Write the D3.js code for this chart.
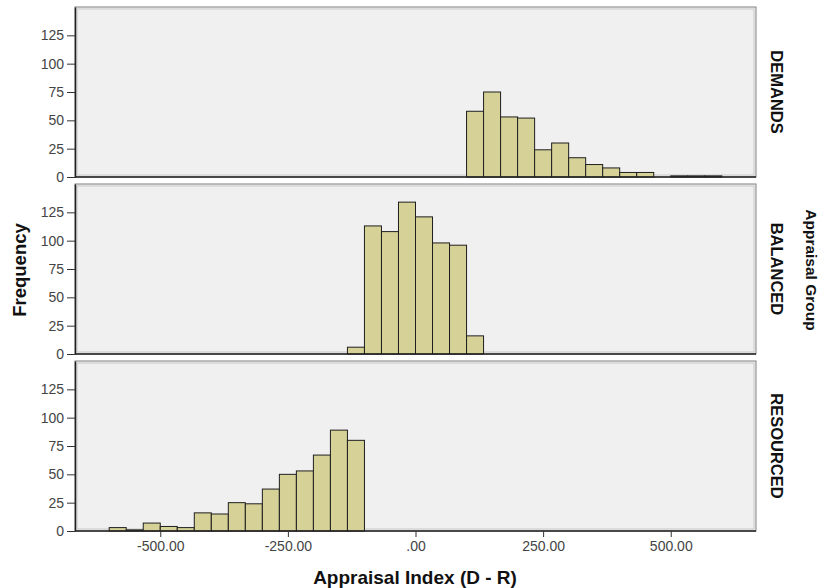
<!DOCTYPE html>
<html>
<head>
<meta charset="utf-8">
<script src="https://cdn.jsdelivr.net/npm/d3@7"></script>
<style>
  body { margin: 0; background: #fff; }
  text { font-family: "Liberation Sans", Arial, sans-serif; }
</style>
</head>
<body>
<div id="chart"></div>
<script>
// histogram bins: 36 bins of width 100/3 starting at -600
const binStart = -600;
const binWidth = 100 / 3;

const groups = ["DEMANDS", "BALANCED", "RESOURCED"];

const demandsCounts = [
  0, 0, 0, 0, 0, 0, 0, 0, 0, 0, 0, 0, 0, 0, 0, 0, 0, 0,
  0, 0, 0, 58, 75, 53, 52, 24, 30, 17, 11, 8, 4, 4, 0, 1, 1, 1
];
const balancedCounts = [
  0, 0, 0, 0, 0, 0, 0, 0, 0, 0, 0, 0, 0, 0, 6, 113, 108, 134,
  121, 98, 96, 16, 0, 0, 0, 0, 0, 0, 0, 0, 0, 0, 0, 0, 0, 0
];
const resourcedCounts = [
  3, 1, 7, 4, 3, 16, 15, 25, 24, 37, 50, 53, 67, 89, 80, 0, 0, 0,
  0, 0, 0, 0, 0, 0, 0, 0, 0, 0, 0, 0, 0, 0, 0, 0, 0, 0
];
const counts = [demandsCounts, balancedCounts, resourcedCounts];

const xTicks = [-500, -250, 0, 250, 500];
const xTickLabels = ["-500.00", "-250.00", ".00", "250.00", "500.00"];
const yTicks = [0, 25, 50, 75, 100, 125];

const width = 822, height = 588;
const left = 75, right = 756;
const panelH = 170;
const panelTops = [7, 184, 361];

const svg = d3.select("#chart").append("svg")
  .attr("width", width)
  .attr("height", height);

const x = d3.scaleLinear().domain([-667, 667]).range([left, right]);

groups.forEach((g, gi) => {
  const top = panelTops[gi];
  const y = d3.scaleLinear().domain([0, 150]).range([top + panelH, top]);
  const panel = svg.append("g");

  // background + double frame
  panel.append("rect")
    .attr("x", left).attr("y", top)
    .attr("width", right - left).attr("height", panelH)
    .attr("fill", "#f0f0f0")
    .attr("stroke", "#808080").attr("stroke-width", 1);
  panel.append("rect")
    .attr("x", left + 2).attr("y", top + 2)
    .attr("width", right - left - 4).attr("height", panelH - 4)
    .attr("fill", "none")
    .attr("stroke", "#c8c8c8").attr("stroke-width", 1);

  const bins = counts[gi]
    .map((c, i) => ({ x0: binStart + i * binWidth, x1: binStart + (i + 1) * binWidth, c }))
    .filter(d => d.c > 0);

  panel.append("g")
    .selectAll("rect")
    .data(bins)
    .join("rect")
    .attr("x", d => x(d.x0))
    .attr("y", d => y(d.c))
    .attr("width", d => x(d.x1) - x(d.x0))
    .attr("height", d => y(0) - y(d.c))
    .attr("fill", "#d6d297")
    .attr("stroke", "#1e1e1e")
    .attr("stroke-width", 1);

  // y axis
  const yAxis = panel.append("g")
    .attr("transform", `translate(${left},0)`)
    .call(d3.axisLeft(y).tickValues(yTicks).tickSize(8).tickSizeOuter(0).tickPadding(3));
  yAxis.select(".domain").attr("stroke", "#222").attr("stroke-width", 1.5);
  yAxis.selectAll(".tick line").attr("stroke", "#333");
  yAxis.selectAll(".tick text")
    .attr("fill", "#444")
    .attr("font-size", 14)
    .style("font-family", "'Liberation Sans', Arial, sans-serif");

  // baseline
  panel.append("line")
    .attr("x1", left).attr("x2", right)
    .attr("y1", y(0)).attr("y2", y(0))
    .attr("stroke", "#222").attr("stroke-width", 1.5);

  // facet label
  panel.append("text")
    .attr("transform", `translate(777,${top + panelH / 2}) rotate(90)`)
    .attr("text-anchor", "middle")
    .attr("dominant-baseline", "central")
    .attr("font-size", 16.5)
    .attr("font-weight", "bold")
    .attr("fill", "#111")
    .text(g);

  if (gi === groups.length - 1) {
    const xAxis = panel.append("g")
      .attr("transform", `translate(0,${y(0)})`)
      .call(d3.axisBottom(x).tickValues(xTicks).tickSize(6).tickSizeOuter(0).tickPadding(4)
        .tickFormat((d, i) => xTickLabels[i]));
    xAxis.select(".domain").remove();
    xAxis.selectAll(".tick line").attr("stroke", "#333");
    xAxis.selectAll(".tick text")
      .attr("fill", "#444")
      .attr("font-size", 14)
      .style("font-family", "'Liberation Sans', Arial, sans-serif");
  }
});

// axis titles
svg.append("text")
  .attr("transform", "translate(19,270) rotate(-90)")
  .attr("text-anchor", "middle")
  .attr("dominant-baseline", "central")
  .attr("font-size", 18.5)
  .attr("font-weight", "bold")
  .attr("fill", "#111")
  .text("Frequency");

svg.append("text")
  .attr("x", 415)
  .attr("y", 577)
  .attr("text-anchor", "middle")
  .attr("dominant-baseline", "central")
  .attr("font-size", 19)
  .attr("font-weight", "bold")
  .attr("fill", "#111")
  .text("Appraisal Index (D - R)");

svg.append("text")
  .attr("transform", "translate(811,270) rotate(90)")
  .attr("text-anchor", "middle")
  .attr("dominant-baseline", "central")
  .attr("font-size", 15.5)
  .attr("font-weight", "bold")
  .attr("fill", "#111")
  .text("Appraisal Group");
</script>
</body>
</html>
